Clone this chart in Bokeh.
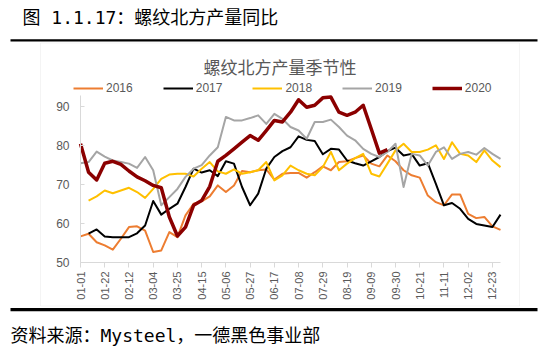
import math
from bokeh.plotting import figure
from bokeh.models import (Range1d, FixedTicker, Label, BoxAnnotation, Legend,
                          LegendItem)
from bokeh.embed import file_html
from bokeh.resources import INLINE

# ---------------- data ----------------
tick_idx = [0, 3, 6, 9, 12, 15, 18, 21, 24, 27, 30, 33, 36, 39, 42, 45, 48, 51]
tick_labels = ["01-01", "01-22", "02-12", "03-04", "03-25", "04-15", "05-06",
               "05-27", "06-17", "07-08", "07-29", "08-19", "09-09", "09-30",
               "10-21", "11-11", "12-02", "12-23"]
y_ticks = [50, 60, 70, 80, 90]

x2016 = list(range(0, 53))
y2016 = [56.7, 57.4, 55.2, 54.4, 53.3, 56.1, 59.1, 59.3, 58.2, 52.7, 53.1, 57.8,
         56.5, 62.1, 65.1, 65.7, 67.0, 69.8, 68.1, 69.8, 73.5, 73.2, 73.7, 73.9,
         71.3, 72.8, 73.0, 73.0, 71.8, 73.2, 74.7, 73.7, 75.8, 76.0, 76.8, 77.5,
         75.4, 74.7, 77.5, 76.0, 73.7, 72.4, 71.8, 67.2, 65.5, 64.7, 67.5, 67.5,
         62.5, 61.4, 61.7, 59.3, 58.4]

x2017 = list(range(1, 53))
y2017 = [57.4, 58.5, 56.7, 56.5, 56.5, 56.5, 57.5, 59.5, 65.8, 62.3, 63.8,
         65.1, 69.4, 74.1, 73.1, 73.7, 72.2, 76.0, 75.4, 69.4, 64.7, 67.7, 74.1,
         77.1, 78.6, 79.6, 82.4, 81.5, 81.2, 77.8, 79.2, 79.0, 76.2, 75.5, 74.9,
         76.0, 77.1, 78.6, 79.5, 77.5, 77.9, 74.9, 75.5, 70.2, 64.7, 65.3, 63.8,
         61.2, 59.9, 59.5, 59.1, 62.3]

x2018 = list(range(1, 53))
y2018 = [65.9, 67.0, 68.5, 67.8, 68.5, 69.2, 68.1, 66.6, 68.9, 71.5, 72.6,
         72.8, 72.8, 72.1, 74.1, 75.8, 73.4, 72.8, 73.9, 72.8, 73.2, 73.7, 75.8,
         71.1, 72.4, 74.9, 73.7, 72.8, 72.4, 74.5, 78.4, 73.7, 75.4, 76.8, 77.9,
         72.8, 72.1, 75.4, 78.8, 80.5, 78.4, 78.4, 79.0, 80.1, 76.6, 80.9, 77.9,
         77.5, 75.8, 78.8, 76.2, 74.5]

x2019 = list(range(0, 53))
y2019 = [75.5, 75.8, 78.5, 77.2, 76.2, 75.8, 75.4, 74.3, 77.1, 73.7, 64.7, 66.8,
         68.9, 72.0, 74.1, 75.0, 77.5, 79.6, 87.4, 86.5, 86.5, 87.1, 87.8, 85.6,
         88.2, 86.9, 84.8, 83.9, 81.8, 86.1, 86.1, 86.7, 84.8, 82.6, 81.4, 79.2,
         77.9, 77.1, 78.4, 80.5, 69.4, 77.9, 77.5, 74.9, 78.4, 79.6, 76.6, 77.9,
         78.4, 77.7, 79.4, 77.9, 76.6]

x2020 = list(range(0, 39))
y2020 = [80.5, 73.2, 71.2, 75.5, 76.0, 75.2, 73.5, 72.0, 71.0, 69.8, 69.2, 61.7,
         56.8, 59.1, 64.7, 65.9, 69.5, 76.0, 77.5, 79.2, 80.9, 82.6, 81.4, 83.9,
         86.5, 86.1, 88.6, 91.8, 89.9, 90.4, 92.3, 92.5, 88.6, 87.8, 88.6, 90.4,
         84.3, 78.1, 79.0]

series = [
    ("2016", x2016, y2016, "#ED7D31", 2.0),
    ("2017", x2017, y2017, "#000000", 2.0),
    ("2018", x2018, y2018, "#FFC000", 2.0),
    ("2019", x2019, y2019, "#A5A5A5", 2.0),
    ("2020", x2020, y2020, "#8B0000", 3.5),
]

# ---------------- layout (canvas px) ----------------
W, H = 550, 350
PL, PR, PT, PB = 80, 500, 95, 262      # plot-area edges in canvas px
XMIN, XMAX, YMIN, YMAX = 0, 52, 50, 92.9
KX = (PR - PL) / (XMAX - XMIN)
KY = (PB - PT) / (YMAX - YMIN)


def dx(cx):
    return XMIN + (cx - PL) / KX


def dy(cy):
    return YMIN + (PB - cy) / KY


p = figure(width=W, height=H, output_backend="svg", toolbar_location=None,
           x_range=Range1d(dx(0), dx(W)), y_range=Range1d(dy(H), dy(0)),
           min_border=0, min_border_left=0, min_border_right=0,
           min_border_top=0, min_border_bottom=0)
p.background_fill_color = "white"
p.border_fill_color = "white"
p.outline_line_color = None
p.xgrid.visible = False
p.ygrid.visible = False

renderers = []
for name, xs, ys, col, lw in series:
    r = p.line(xs, ys, line_color=col, line_width=lw, line_join="round")
    renderers.append((name, r))

# axes
ax = p.xaxis[0]
ax.fixed_location = YMIN
ax.bounds = (XMIN, XMAX)
ax.ticker = FixedTicker(ticks=tick_idx)
ax.major_label_overrides = {i: t for i, t in zip(tick_idx, tick_labels)}
ax.major_label_orientation = math.pi / 2
ax.axis_line_color = "#D9D9D9"
ax.major_tick_line_color = "#D9D9D9"
ax.major_tick_out = 5
ax.major_tick_in = 0
ax.minor_tick_line_color = None
ax.major_label_standoff = 4
ax.major_label_text_font = "Liberation Sans"
ax.major_label_text_font_size = "11px"
ax.major_label_text_color = "#595959"

ay = p.yaxis[0]
ay.fixed_location = XMIN
ay.bounds = (YMIN, YMAX)
ay.ticker = FixedTicker(ticks=y_ticks)
ay.axis_line_color = "#D9D9D9"
ay.major_tick_line_color = "#D9D9D9"
ay.major_tick_out = 0
ay.major_tick_in = 4
ay.minor_tick_line_color = None
ay.major_label_standoff = 11
ay.major_label_text_font = "Liberation Sans"
ay.major_label_text_font_size = "12px"
ay.major_label_text_color = "#595959"

# chart area border
p.add_layout(BoxAnnotation(left=dx(40), right=dx(519), top=dy(42.5), bottom=dy(305.5),
                           fill_alpha=0, line_color="#D9D9D9", line_width=1))
# thick page rules
p.add_layout(BoxAnnotation(left=dx(10), right=dx(537), top=dy(38.8), bottom=dy(41),
                           fill_color="black", fill_alpha=1, line_color=None))
p.add_layout(BoxAnnotation(left=dx(10), right=dx(537), top=dy(307.5), bottom=dy(310.8),
                           fill_color="black", fill_alpha=1, line_color=None))

# texts
p.add_layout(Label(x=dx(22), y=dy(17), text="图 1.1.17：螺纹北方产量同比",
                   text_font="DejaVu Sans Mono, Noto Sans CJK SC",
                   text_font_size="18px", text_color="black",
                   text_baseline="middle", text_align="left"))
p.add_layout(Label(x=dx(279.5), y=dy(66), text="螺纹北方产量季节性",
                   text_font="Noto Sans CJK SC",
                   text_font_size="17px", text_color="#595959",
                   text_baseline="middle", text_align="center"))
p.add_layout(Label(x=dx(10), y=dy(335), text="资料来源：Mysteel，一德黑色事业部",
                   text_font="DejaVu Sans Mono, Noto Sans CJK SC",
                   text_font_size="18px", text_color="black",
                   text_baseline="middle", text_align="left"))

# legend (location in screen px from frame bottom-left)
legend = Legend(items=[LegendItem(label=n, renderers=[r]) for n, r in renderers],
                orientation="horizontal", location=(73, H - 98),
                glyph_width=30, glyph_height=20, label_standoff=3, spacing=30,
                label_text_font="Liberation Sans", label_text_font_size="12px",
                label_text_color="#595959", border_line_color=None,
                background_fill_alpha=0, padding=0, margin=0)
p.add_layout(legend, "center")

open("out.html", "w").write(file_html(p, INLINE))
